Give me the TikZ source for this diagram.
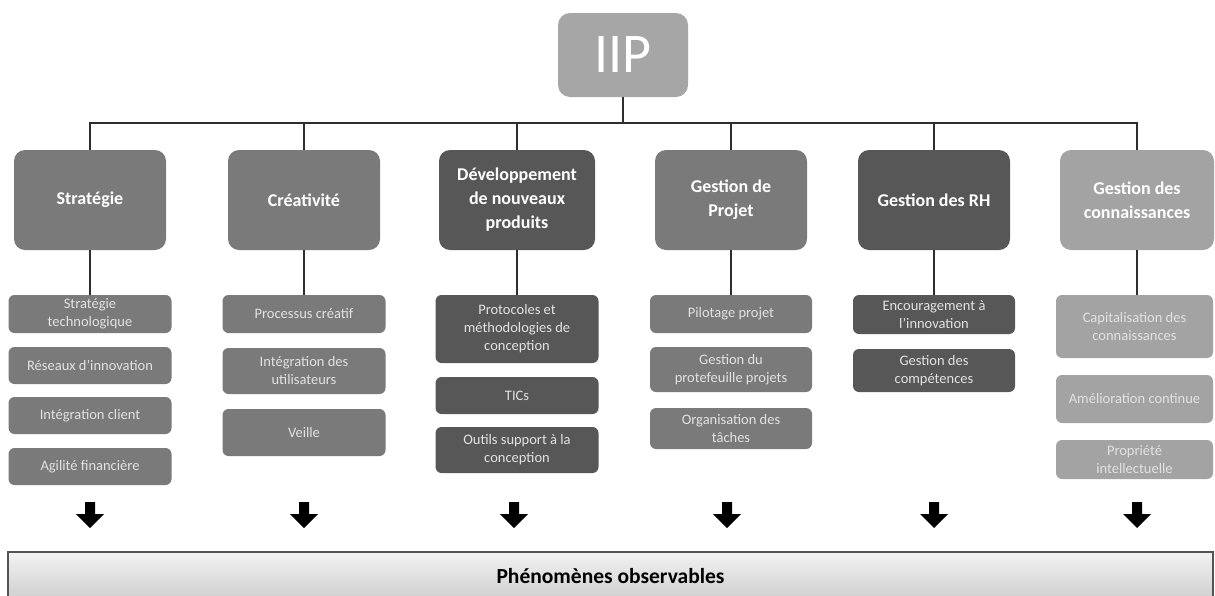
\documentclass[tikz,border=0pt]{standalone}
\usepackage{fontspec}
\setmainfont{Carlito}
\definecolor{cIIP}{HTML}{A6A6A6}
\definecolor{cMid}{HTML}{7A7A7A}
\definecolor{cDark}{HTML}{575757}
\definecolor{cLight}{HTML}{A3A3A3}
\definecolor{cLine}{HTML}{2E2E2E}
\definecolor{cSubTxt}{HTML}{E2E2E2}
\begin{document}
\begin{tikzpicture}[x=1pt,y=-1pt,
  topbox/.style={rounded corners=11pt, minimum width=152pt, minimum height=100pt, inner sep=2pt,
    text=white, align=center, font=\bfseries\fontsize{18}{24}\selectfont},
  subbox/.style={rounded corners=6pt, minimum width=163pt, inner sep=1pt,
    text=cSubTxt, align=center, font=\fontsize{14.5}{18}\selectfont},
  conn/.style={draw=cLine, line width=1.3pt},
  downarrow/.style={fill=black},
  bar/.style={draw=gray!65!black, line width=1.2pt, top color=gray!10, bottom color=gray!38,
    minimum width=1205pt, minimum height=48pt, font=\bfseries\fontsize{21.5}{24}\selectfont, text=black}
]
\useasboundingbox (0,0) rectangle (1215,595);

% root
\node[topbox, fill=cIIP, minimum width=130pt, minimum height=84pt,
      font=\fontsize{56}{60}\selectfont, rounded corners=12pt] (iip) at (623,55) {IIP};

% top level
\coordinate (bus) at (0,123);
\node[topbox, fill=cMid]  (s) at (90,200)  {Stratégie};
\node[topbox, fill=cMid]  (c) at (304,200) {Créativité};
\node[topbox, fill=cDark, minimum width=156pt] (d) at (517,200) {Développement\\de nouveaux\\produits};
\node[topbox, fill=cMid]  (p) at (731,200) {Gestion de\\Projet};
\node[topbox, fill=cDark] (r) at (934,200) {Gestion des RH};
\node[topbox, fill=cLight, minimum width=154pt] (k) at (1137,200) {Gestion des\\connaissances};

\foreach \n in {s,c,d,p,r,k}
  \draw[conn] (iip.south) -- (iip.south |- bus) -| (\n.north);

% sub boxes: Strategie
\node[subbox, fill=cMid, minimum height=38pt] (s1) at (90,314)   {Stratégie\\technologique};
\node[subbox, fill=cMid, minimum height=37pt] (s2) at (90,365.5) {Réseaux d’innovation};
\node[subbox, fill=cMid, minimum height=37pt] (s3) at (90,415.5) {Intégration client};
\node[subbox, fill=cMid, minimum height=37pt] (s4) at (90,466.5) {Agilité financière};
% Creativite
\node[subbox, fill=cMid, minimum height=38pt] (c1) at (304,314)   {Processus créatif};
\node[subbox, fill=cMid, minimum height=46pt] (c2) at (304,371)   {Intégration des\\utilisateurs};
\node[subbox, fill=cMid, minimum height=47pt] (c3) at (304,432.5) {Veille};
% Developpement
\node[subbox, fill=cDark, minimum height=68pt] (d1) at (517,329)   {Protocoles et\\méthodologies de\\conception};
\node[subbox, fill=cDark, minimum height=37pt] (d2) at (517,395.5) {TICs};
\node[subbox, fill=cDark, minimum height=46pt] (d3) at (517,450)   {Outils support à la\\conception};
% Projet
\node[subbox, fill=cMid, minimum height=38pt, minimum width=162pt] (p1) at (731,314)   {Pilotage projet};
\node[subbox, fill=cMid, minimum height=45pt, minimum width=162pt] (p2) at (731,369.5) {Gestion du\\protefeuille projets};
\node[subbox, fill=cMid, minimum height=41pt, minimum width=162pt] (p3) at (731,428.5) {Organisation des\\tâches};
% RH
\node[subbox, fill=cDark, minimum height=39pt, minimum width=162pt] (r1) at (934,314.5) {Encouragement à\\l’innovation};
\node[subbox, fill=cDark, minimum height=43pt, minimum width=162pt] (r2) at (934,370.5) {Gestion des\\compétences};
% Connaissances
\node[subbox, fill=cLight, minimum height=63pt, minimum width=157pt] (k1) at (1134.5,326.5) {Capitalisation des\\connaissances};
\node[subbox, fill=cLight, minimum height=48pt, minimum width=157pt] (k2) at (1134.5,399)   {Amélioration continue};
\node[subbox, fill=cLight, minimum height=39pt, minimum width=157pt] (k3) at (1134.5,459.5) {Propriété\\intellectuelle};

\foreach \a/\b in {s/s1,c/c1,d/d1,p/p1,r/r1,k/k1}
  \draw[conn] (\a.south) -- (\a.south |- \b.north);

% down arrows
\foreach \x in {90,304,514,727,934,1137}
  \fill[downarrow] ({\x-5},502) -- ({\x+5},502) -- ({\x+5},514) -- ({\x+14},514)
     -- (\x,528) -- ({\x-14},514) -- ({\x-5},514) -- cycle;

% bottom bar
\node[bar] (obs) at (610.5,576) {Phénomènes observables};
\end{tikzpicture}
\end{document}
